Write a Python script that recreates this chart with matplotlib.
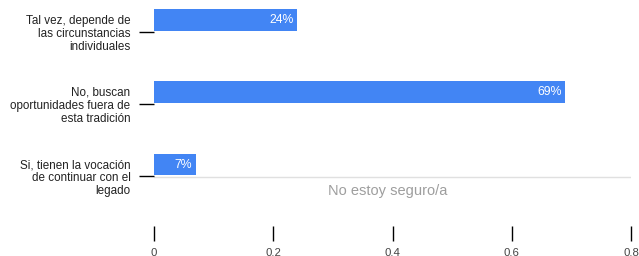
import matplotlib.pyplot as plt

# data
categorias = ["Si, tienen la vocación\nde continuar con el\nlegado",
              "No, buscan\noportunidades fuera de\nesta tradición",
              "Tal vez, depende de\nlas circunstancias\nindividuales"]
valores = [0.07, 0.69, 0.24]
etiquetas = ["7%", "69%", "24%"]
xticks = [0, 0.2, 0.4, 0.6, 0.8]

plt.rcParams['font.family'] = ['Liberation Sans', 'DejaVu Sans']

fig = plt.figure(figsize=(6.39, 2.56), dpi=100)
ax = fig.add_axes([154/639, 30/256, (631-154)/639, 226/256])

pos = list(range(len(valores)))
ax.barh(pos, valores, height=0.3, color="#4285f4", zorder=3)
for p, v, t in zip(pos, valores, etiquetas):
    ax.text(v - 0.006, p, t, color="white", fontsize=8.8,
            ha="right", va="center", zorder=4)

# linea gris y texto de la opcion sin respuestas
ax.axhline(-0.175, color="#e0e0e0", lw=1, zorder=1)
ax.text(0.292, -0.36, "No estoy seguro/a", color="#9e9e9e", fontsize=10.5,
        ha="left", va="center")

ax.set_xlim(0, 0.8)
ax.set_ylim(-0.851, 2.277)
ax.set_yticks([p - 0.16 for p in pos])
ax.set_yticklabels(categorias, fontsize=8.4, linespacing=1.12, color="#222222")
ax.set_xticks(xticks)
ax.set_xticklabels(["0", "0.2", "0.4", "0.6", "0.8"], fontsize=8.2, color="#444444")
ax.tick_params(axis="y", length=11, width=1, pad=6, color="black")
ax.tick_params(axis="x", length=11, width=1, pad=5, color="black")
for s in ax.spines.values():
    s.set_visible(False)

fig.savefig("out.png", dpi=100)
